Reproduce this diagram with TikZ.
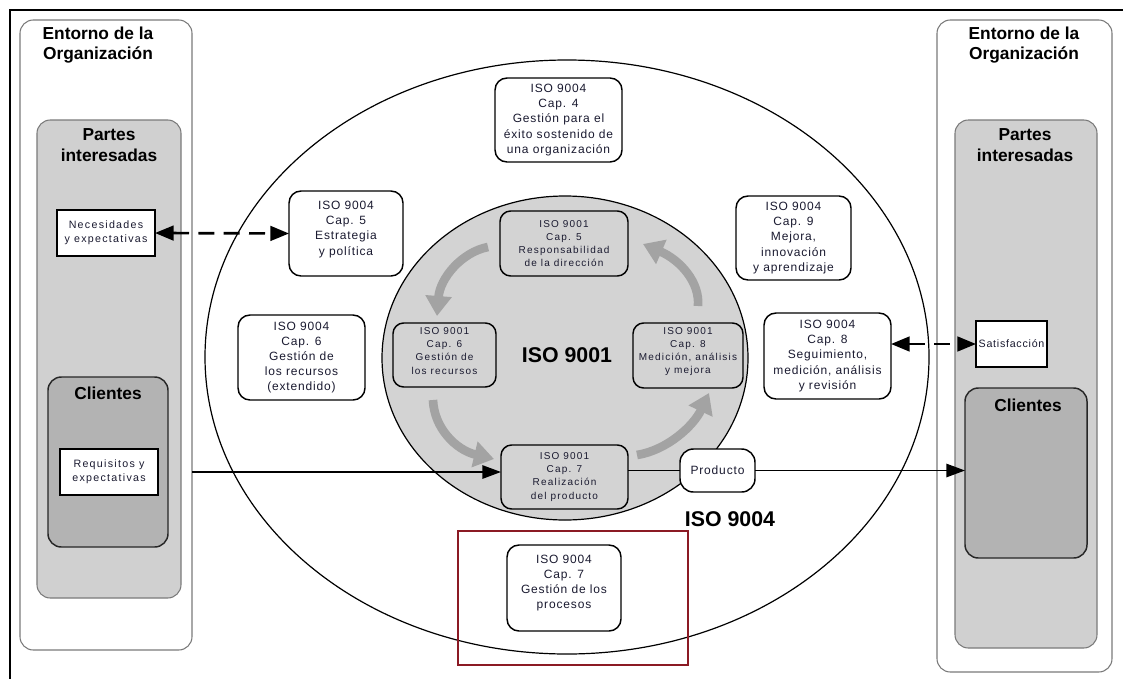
\documentclass[tikz,border=0pt]{standalone}
\usepackage{fontspec}
\setmainfont{Liberation Sans}
\newfontfamily\boxfont[LetterSpace=7]{Liberation Sans}
\newfontfamily\smallfont[LetterSpace=12]{Liberation Sans}
\usetikzlibrary{arrows.meta,fit,shapes.geometric}
\definecolor{panelgray}{HTML}{D0D0D0}
\definecolor{clientgray}{HTML}{B3B3B3}
\definecolor{coregray}{HTML}{D3D3D3}
\definecolor{cyclegray}{HTML}{A3A3A3}
\definecolor{framered}{HTML}{8B1A24}
\definecolor{edgegray}{HTML}{7A7A7A}
\definecolor{inkblue}{HTML}{1A1A30}
\begin{document}
\begin{tikzpicture}[x=0.75pt,y=-0.75pt,
  every node/.style={inner sep=0pt, outer sep=0pt},
  env/.style={draw=edgegray, line width=0.8pt, fill=white, rounded corners=10pt},
  partes/.style={draw=edgegray, line width=0.8pt, fill=panelgray, rounded corners=10pt},
  cliente/.style={draw=black!85, line width=1.1pt, fill=clientgray, rounded corners=10pt},
  note/.style={draw=black, line width=0.9pt, fill=white},
  notetext/.style={align=center, text=inkblue, font=\smallfont\fontsize{8}{10.5}\selectfont},
  iso4/.style={draw=black, line width=1.1pt, fill=white, rounded corners=9pt},
  iso4text/.style={align=center, text=inkblue, font=\boxfont\fontsize{9}{11.3}\selectfont},
  iso1/.style={draw=black, line width=1.1pt, fill=coregray, rounded corners=8pt},
  iso1text/.style={align=center, text=inkblue, font=\smallfont\fontsize{7.5}{9.8}\selectfont},
  ttl/.style={align=center, font=\bfseries\fontsize{13}{15.5}\selectfont},
  loopar/.style={draw=cyclegray, line width=6.5pt, -{Triangle[length=15pt,width=19pt]}},
  link/.style={line width=1.4pt, -{Triangle[length=14pt,width=10pt]}},
  dashlink/.style={line width=2pt, dash pattern=on 12pt off 7pt,
    {Triangle[length=14pt,width=11pt]}-{Triangle[length=14pt,width=11pt]}}
]
\useasboundingbox (0,0) rectangle (1123,678);

% outer frame
\draw[line width=1.3pt] (10,690) -- (10,10) -- (1135,10);

% left environment
\node[env, fit={(20,20) (192,650)}] (envL) {};
\node[ttl] (envLt) at (98,45) {Entorno de la\\Organización};
\node[partes, fit={(37,120) (181,598)}] (parL) {};
\node[ttl] (parLt) at (109,145) {Partes\\interesadas};
\node[cliente, fit={(48,377) (168,547)}] (cliL) {};
\node[ttl] (cliLt) at (108,393) {Clientes};
\node[note, fit={(57,210) (155,256)}] (nec) {};
\node[notetext] (nect) at (nec.center) {Necesidades\\y expectativas};
\node[note, fit={(60,449) (158,495)}] (req) {};
\node[notetext] (reqt) at (req.center) {Requisitos y\\expectativas};

% right environment
\node[env, fit={(937,20) (1112,672)}] (envR) {};
\node[ttl] (envRt) at (1024,45) {Entorno de la\\Organización};
\node[partes, fit={(955,120) (1097,648)}] (parR) {};
\node[ttl] (parRt) at (1025,145) {Partes\\interesadas};
\node[note, fit={(976,321) (1047,367)}] (sat) {};
\node[notetext, font=\boxfont\fontsize{8}{10}\selectfont] (satt) at (sat.center) {Satisfacción};
\node[cliente, fit={(965,388) (1087,558)}] (cliR) {};
\node[ttl] (cliRt) at (1028,405) {Clientes};

% ISO 9004 and ISO 9001 areas
\node[ellipse, draw, line width=0.9pt, fill=white, minimum width=543pt, minimum height=445.5pt] (e9004) at (567,357) {};
\node[ellipse, draw, line width=0.9pt, fill=coregray, minimum width=274.5pt, minimum height=243pt] (e9001) at (565,358) {};
\node[font=\bfseries\fontsize{16}{19}\selectfont] (l9001) at (567,355) {ISO 9001};
\node[font=\bfseries\fontsize{16}{19}\selectfont] (l9004) at (730,519) {ISO 9004};

% ISO 9004 chapters
\node[iso4, fit={(495,78) (622,162)}] (c4) {};
\node[iso4text] (c4t) at (c4.center) {ISO 9004\\Cap. 4\\Gestión para el\\éxito sostenido de\\una organización};
\node[iso4, fit={(289,191) (403,276)}] (c5) {};
\node[iso4text] (c5t) at ([yshift=3pt]c5.center) {ISO 9004\\Cap. 5\\Estrategia\\y política};
\node[iso4, fit={(736,196) (851,280)}] (c9) {};
\node[iso4text] (c9t) at (c9.center) {ISO 9004\\Cap. 9\\Mejora,\\innovación\\y aprendizaje};
\node[iso4, fit={(238,315) (365,400)}] (c6) {};
\node[iso4text] (c6t) at (c6.center) {ISO 9004\\Cap. 6\\Gestión de\\los recursos\\(extendido)};
\node[iso4, fit={(764,313) (891,399)}] (c8) {};
\node[iso4text] (c8t) at (c8.center) {ISO 9004\\Cap. 8\\Seguimiento,\\medición, análisis\\y revisión};
\node[iso4, fit={(507,545) (621,631)}] (c7) {};
\node[iso4text] (c7t) at ([yshift=4pt]c7.center) {ISO 9004\\Cap. 7\\Gestión de los\\procesos};

% ISO 9001 chapters
\node[iso1, fit={(500,211) (628,276)}] (k5) {};
\node[iso1text] (k5t) at (k5.center) {ISO 9001\\Cap. 5\\Responsabilidad\\de la dirección};
\node[iso1, fit={(393,323) (496,387)}] (k6) {};
\node[iso1text] (k6t) at ([yshift=3pt]k6.center) {ISO 9001\\Cap. 6\\Gestión de\\los recursos};
\node[iso1, fit={(633,323) (743,388)}] (k8) {};
\node[iso1text] (k8t) at ([yshift=3pt]k8.center) {ISO 9001\\Cap. 8\\Medición, análisis\\y mejora};
\node[iso1, fit={(501,445) (628,509)}] (k7) {};
\node[iso1text] (k7t) at (k7.center) {ISO 9001\\Cap. 7\\Realización\\del producto};

\node[iso4, rounded corners=10pt, fit={(680,449) (755,492)}] (prod) {};
\node[iso4text] (prodt) at (prod.center) {Producto};

% PDCA cycle
\draw[loopar] (488,247) .. controls (462,252) and (440,278) .. (437,316);
\draw[loopar] (433,400) .. controls (434,428) and (456,450) .. (494,459);
\draw[loopar] (637,455) .. controls (668,450) and (694,425) .. (709,393);
\draw[loopar] (698,306) .. controls (700,282) and (680,260) .. (643,244);

% flows
\draw[dashlink] (nec.east) -- (c5.west);
\draw[dashlink] (c8.east |- sat.west) -- (sat.west);
\draw[link] (envL.east |- req.east) -- (k7.west |- req.east);
\draw[line width=1.4pt] (k7.east |- prod.west) -- (prod.west);
\draw[link] (prod.east) -- (cliR.west |- prod.east);

% highlight
\node[draw=framered, line width=2.2pt, fit={(458,531) (688,665)}] (hl) {};
\end{tikzpicture}
\end{document}
